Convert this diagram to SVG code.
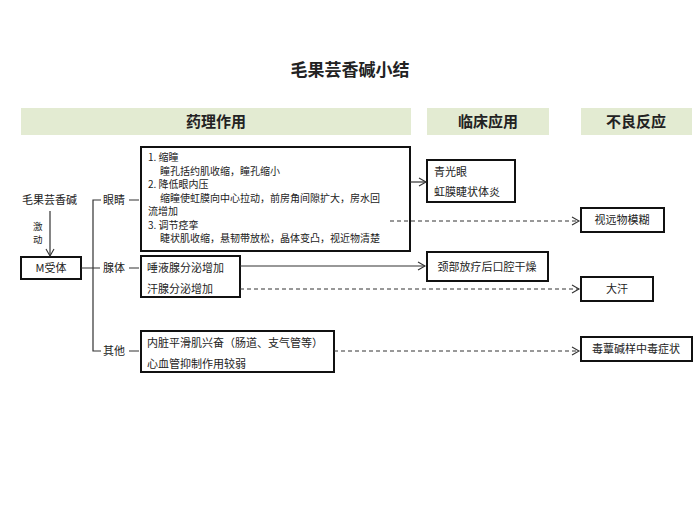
<svg xmlns="http://www.w3.org/2000/svg" width="700" height="525" viewBox="0 0 700 525">
<style>
text{font-family:"Noto Sans CJK SC","Noto Sans",sans-serif;font-size:11px;fill:#222}
.sm{font-size:10px}
.box{fill:#fff;stroke:#111;stroke-width:2}
.hdr{fill:#e3ebd2}
.ht{font-size:15px;font-weight:bold;text-anchor:middle}
.ln{stroke:#333;stroke-width:1.2;fill:none}
.ds{stroke:#333;stroke-width:1;fill:none;stroke-dasharray:4 3}
</style>
<defs><marker id="a" markerWidth="10" markerHeight="10" refX="8" refY="5" orient="auto" markerUnits="userSpaceOnUse"><path d="M1,1 L8,5 L1,9" fill="none" stroke="#333" stroke-width="1.1"/></marker></defs>
<rect width="700" height="525" fill="#fff"/>
<text x="350" y="76" class="ht" style="font-size:17px">毛果芸香碱小结</text>
<g id="headers">
<rect class="hdr" x="21" y="108" width="390" height="27"/><text x="216" y="127" class="ht">药理作用</text>
<rect class="hdr" x="427" y="108" width="122" height="27"/><text x="488" y="127" class="ht">临床应用</text>
<rect class="hdr" x="581" y="108" width="111" height="27"/><text x="636" y="127" class="ht">不良反应</text>
</g>
<g id="drug"><text x="22" y="204">毛果芸香碱</text><text x="33" y="230" style="font-size:9.5px">激</text><text x="33" y="243" style="font-size:9.5px">动</text></g>
<g id="m"><rect class="box" x="21" y="257" width="60" height="22"/><text x="51" y="272" text-anchor="middle">M受体</text></g>
<g id="labels"><text x="103" y="204">眼睛</text><text x="103" y="272">腺体</text><text x="103" y="355">其他</text></g>
<g id="eye"><rect class="box" x="141" y="147" width="269" height="104"/>
<text class="sm" x="148" y="161">1. 缩瞳</text><text class="sm" x="160" y="174.5">瞳孔括约肌收缩，瞳孔缩小</text><text class="sm" x="148" y="188">2. 降低眼内压</text><text class="sm" x="160" y="201.5">缩瞳使虹膜向中心拉动，前房角间隙扩大，房水回</text><text class="sm" x="148" y="215">流增加</text><text class="sm" x="148" y="228.5">3. 调节痉挛</text><text class="sm" x="160" y="242">睫状肌收缩，悬韧带放松，晶体变凸，视近物清楚</text></g>
<g id="gland"><rect class="box" x="141" y="256" width="99" height="41"/><text x="147" y="272">唾液腺分泌增加</text><text x="147" y="293">汗腺分泌增加</text></g>
<g id="other"><rect class="box" x="141" y="331" width="193" height="41"/><text x="147" y="347">内脏平滑肌兴奋（肠道、支气管等）</text><text x="147" y="368">心血管抑制作用较弱</text></g>
<g id="glaucoma"><rect class="box" x="427" y="160" width="88" height="42"/><text x="434" y="176">青光眼</text><text x="434" y="196">虹膜睫状体炎</text></g>
<g id="blur"><rect class="box" x="581" y="208" width="83" height="24"/><text x="622" y="224" text-anchor="middle">视远物模糊</text></g>
<g id="dry"><rect class="box" x="427" y="252" width="121" height="29"/><text x="487" y="271" text-anchor="middle">颈部放疗后口腔干燥</text></g>
<g id="sweat"><rect class="box" x="581" y="277" width="72" height="24"/><text x="617" y="293" text-anchor="middle">大汗</text></g>
<g id="tox"><rect class="box" x="581" y="337" width="111" height="24"/><text x="636" y="353" text-anchor="middle">毒蕈碱样中毒症状</text></g>
<g id="connectors">
<path class="ln" d="M50,211 V256" marker-end="url(#a)"/>
<path class="ln" d="M81,268 H100 M101,200 H93 V351 H101 M129,200 H139 M129,268 H139 M129,351 H139"/>
<path class="ln" d="M410,182 H426" marker-end="url(#a)"/>
<path class="ds" d="M390,221 H579" marker-end="url(#a)"/>
<path class="ln" d="M240,266 H425" marker-end="url(#a)"/>
<path class="ds" d="M240,289 H579" marker-end="url(#a)"/>
<path class="ds" d="M334,351 H579" marker-end="url(#a)"/>
</g>
</svg>
